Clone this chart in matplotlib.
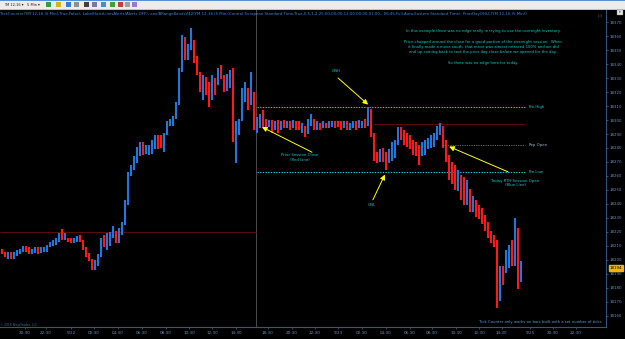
import matplotlib
matplotlib.use("Agg")
import matplotlib.pyplot as plt
import matplotlib.transforms as mtransforms
from matplotlib.patches import Rectangle

# ---------------- data (YM 12-16, aggregated bars) ----------------
first_open = 18207
highs = [18208,18206,18206,18206,18206,18207,18208,18210,18210,18209,
         18208,18209,18209,18209,18209,18211,18213,18214,18216,18219,
         18222,18219,18216,18216,18216,18217,18218,18214,18209,18205,
         18201,18200,18204,18216,18218,18219,18220,18224,18221,18223,
         18227,18243,18263,18268,18274,18281,18284,18284,18282,18282,
         18286,18289,18289,18289,18291,18299,18301,18303,18313,18337,
         18361,18359,18354,18366,18357,18346,18334,18332,18331,18327,
         18332,18330,18337,18339,18332,18333,18336,18337,18299,18301,
         18323,18327,18323,18334,18320,18302,18304,18307,18301,18300,
         18300,18299,18300,18299,18300,18299,18299,18300,18299,18299,
         18298,18296,18301,18304,18301,18299,18298,18299,18298,18299,
         18299,18299,18299,18299,18299,18299,18298,18299,18299,18300,
         18299,18301,18309,18308,18291,18277,18279,18280,18277,18279,
         18284,18286,18295,18295,18293,18291,18289,18286,18284,18282,
         18284,18286,18287,18289,18291,18296,18298,18296,18286,18275,
         18270,18268,18264,18261,18259,18257,18251,18246,18243,18239,
         18237,18232,18227,18221,18218,18214,18196,18196,18207,18211,
         18214,18230,18223,18199]
lows = [18204,18202,18201,18201,18201,18203,18204,18206,18206,18204,
        18204,18205,18204,18205,18206,18206,18209,18210,18211,18213,
        18214,18214,18213,18212,18212,18213,18213,18207,18202,18199,
        18193,18193,18196,18202,18209,18207,18210,18216,18212,18212,
        18218,18225,18239,18260,18264,18269,18274,18275,18276,18275,
        18276,18279,18279,18280,18277,18289,18296,18296,18301,18311,
        18334,18343,18343,18350,18341,18332,18320,18314,18318,18309,
        18314,18318,18325,18329,18320,18321,18323,18284,18269,18289,
        18299,18313,18307,18311,18293,18291,18294,18295,18294,18295,
        18291,18293,18291,18293,18294,18294,18293,18294,18293,18293,
        18291,18288,18290,18296,18293,18293,18293,18294,18294,18294,
        18295,18294,18295,18293,18294,18293,18293,18294,18293,18294,
        18294,18294,18296,18288,18271,18269,18270,18270,18264,18269,
        18271,18273,18282,18286,18282,18281,18279,18275,18274,18268,
        18274,18275,18279,18280,18281,18286,18289,18280,18270,18257,
        18254,18250,18249,18243,18239,18239,18234,18234,18231,18229,
        18226,18221,18216,18212,18209,18166,18171,18182,18191,18194,
        18196,18196,18179,18184]
closes = [18206,18203,18204,18203,18204,18205,18207,18209,18208,18205,
          18206,18207,18206,18207,18208,18210,18211,18213,18214,18217,
          18216,18216,18215,18214,18214,18215,18214,18209,18204,18200,
          18196,18199,18202,18214,18213,18216,18218,18221,18214,18221,
          18226,18241,18261,18266,18271,18279,18281,18277,18279,18280,
          18284,18287,18286,18281,18290,18296,18300,18301,18311,18336,
          18357,18346,18351,18354,18344,18334,18325,18329,18321,18314,
          18329,18325,18334,18332,18325,18329,18330,18289,18293,18299,
          18320,18321,18314,18318,18296,18297,18300,18299,18297,18298,
          18294,18296,18293,18297,18296,18298,18295,18299,18296,18294,
          18296,18291,18300,18301,18295,18296,18294,18297,18296,18296,
          18298,18297,18296,18295,18299,18294,18296,18297,18294,18298,
          18299,18298,18306,18290,18274,18271,18275,18273,18271,18276,
          18280,18284,18293,18290,18287,18286,18282,18279,18276,18275,
          18280,18282,18284,18286,18289,18294,18295,18282,18273,18263,
          18261,18256,18259,18249,18246,18250,18239,18240,18234,18232,
          18229,18225,18218,18214,18211,18175,18193,18191,18201,18206,
          18199,18222,18186,18194]

price_ticks = list(range(18160, 18371, 10))
time_tick_bars = [7.8, 14.8, 23.2, 30.8, 38.8, 46.8, 54.8, 62.5, 70.2, 78.2,
                  88.8, 96.8, 104.5, 112.2, 120.2, 128.2, 136.2, 143.5, 151.5,
                  159.2, 166.8, 176.2, 183.8, 191.5]
time_tick_labels = ["20:30", "22:30", "9/22", "02:30", "04:30", "06:30", "08:30",
                    "10:30", "12:30", "14:30", "18:30", "20:30", "22:30", "9/23",
                    "02:30", "04:30", "06:30", "08:30", "10:30", "12:30", "14:30",
                    "9/25", "20:30", "22:30"]

session_break = 84.8
pre_high = 18309
pre_low = 18263
prior_close = 18297
rep_open = 18282
older_close = 18220
line_end = 174.5

# ---------------- figure ----------------
W, H = 625, 339
fig = plt.figure(figsize=(W / 100, H / 100), dpi=100, facecolor="black")
ax = fig.add_axes([0, 12 / H, 606 / W, 317 / H])
ax.set_facecolor("black")
ax.set_xlim(-0.5, 201.5)
ax.set_ylim(18152.1, 18378.6)

axis_col = "#34557c"
lab_col = "#6f90b8"
cyan = "#19c9c9"
blue_bar = "#2277dd"
red_bar = "#ff1a1a"

for s in ["left", "top"]:
    ax.spines[s].set_visible(False)
for s in ["right", "bottom"]:
    ax.spines[s].set_color(axis_col)
    ax.spines[s].set_linewidth(0.8)

ax.yaxis.tick_right()
ax.set_yticks(price_ticks)
ax.set_yticklabels([str(p) for p in price_ticks])
ax.tick_params(axis="y", colors=axis_col, labelcolor=lab_col, labelsize=2.8,
               length=1.5, width=0.6, pad=1)
ax.set_xticks(time_tick_bars)
ax.set_xticklabels(time_tick_labels)
ax.tick_params(axis="x", colors=axis_col, labelcolor=lab_col, labelsize=3.0,
               length=1.5, width=0.6, pad=1.2)

# session divider
ax.axvline(session_break, color="#4a4a4a", lw=0.7, zorder=1)

# horizontal levels
ax.hlines(older_close, -0.5, session_break, color="#5a0c0c", lw=0.8, zorder=1)
ax.hlines(prior_close, 123.8, line_end, color="#5a0c0c", lw=0.8, zorder=1)
ax.hlines(pre_high, 85.2, line_end, color=cyan, lw=0.8, linestyles=(0, (1.2, 1.2)), zorder=3)
ax.hlines(pre_low, 85.2, line_end, color=cyan, lw=0.8, linestyles=(0, (1.2, 1.2)), zorder=3)
ax.hlines(rep_open, 147.2, line_end, color="#6a6a6a", lw=0.7, linestyles=(0, (1.2, 1.2)), zorder=3)

# bars
xs = list(range(len(closes)))
opens = [first_open] + closes[:-1]
cols = [blue_bar if c >= o else red_bar for o, c in zip(opens, closes)]
ax.vlines(xs, lows, highs, colors=cols, lw=1.5, zorder=4)

# level labels
for lvl, name in [(pre_high, "Pre.High"), (rep_open, "Rep.Open"), (pre_low, "Pre.Low")]:
    ax.text(175.8, lvl, name, color=cyan if name != "Rep.Open" else "#9fb0c0",
            fontsize=2.8, va="center", ha="left")

# arrows and notes
arrow_kw = dict(arrowstyle="-|>,head_length=0.6,head_width=0.3", color="#ffff00", lw=0.7,
                shrinkA=0, shrinkB=0, mutation_scale=5)
ax.annotate("", xy=(122.2, 18311), xytext=(112.2, 18330), arrowprops=arrow_kw, zorder=6)
ax.annotate("", xy=(86.8, 18295), xytext=(103.5, 18277), arrowprops=arrow_kw, zorder=6)
ax.annotate("", xy=(127.8, 18261), xytext=(123.8, 18243), arrowprops=arrow_kw, zorder=6)
ax.annotate("", xy=(149.2, 18281), xytext=(168.8, 18263), arrowprops=arrow_kw, zorder=6)

ax.text(111.5, 18335, "ONH", color=cyan, fontsize=2.8, ha="center", va="center")
ax.text(123.5, 18239, "ONL", color=cyan, fontsize=2.8, ha="center", va="center")
ax.text(99.5, 18273, "Prior Session Close\n(Red Line)", color=cyan, fontsize=2.8,
        ha="center", va="center", linespacing=1.3)
ax.text(171.2, 18255, "Today RTH Session Open\n(Blue Line)", color=cyan, fontsize=2.8,
        ha="center", va="center", linespacing=1.3)

# current price marker
trans = mtransforms.blended_transform_factory(ax.transAxes, ax.transData)
ax.text(1.006, closes[-1], str(closes[-1]), transform=trans, fontsize=2.8, color="black",
        ha="left", va="center", zorder=10, clip_on=False,
        bbox=dict(boxstyle="square,pad=0.25", facecolor="#f2b400", edgecolor="#f2b400"))

def fx(x):
    return x / W

def fy(y):
    return 1 - y / H

# explanation block
note = ("In this example there was no edge really in trying to use the overnight inventory.\n\n"
        "Price chopped around the close for a good portion of the overnight session.  When\n"
        "it finally made a move south, that move was almost retraced 100% and we did\n"
        "end up coming back to test the prior day close before we opened for the day.\n\n"
        "So there was no edge here for today.")
fig.text(fx(483), fy(29), note, color=cyan, fontsize=2.7, ha="center", va="top",
         linespacing=1.45, multialignment="center")

# header
header = ("TickCounter(YM 12-16 (5 Min),True,False), LabelHorizLinesAlerts(Alerts OFF), "
          "anaIBRangeBandsV42(YM 12-16 (5 Min),Central European Standard Time,True,0.5,1,2,25:00,"
          "00:00,12:00,00:00,01:00,- 06:45,Full,Auto,Eastern Standard Time), PriorDayOHLC(YM 12-16 (5 Min))")
fig.text(fx(0), fy(13.5), header, color="#3f86d6", fontsize=2.8, ha="left", va="center")

fig.text(fx(602), fy(322.5), "Tick Counter only works on bars built with a set number of ticks",
         color="#4aa6d8", fontsize=2.7, ha="right", va="center")
fig.text(fx(0.5), fy(325), "\u00a9 2016 NinjaTrader, LLC", color="#4a6d96", fontsize=2.2,
         ha="left", va="center")

# toolbar
fig.patches.append(Rectangle((0, fy(9)), 1, 9 / H, transform=fig.transFigure,
                             facecolor="#ececec", edgecolor="none", zorder=0))
fig.patches.append(Rectangle((0, fy(1)), 1, 1 / H, transform=fig.transFigure,
                             facecolor="#5b8fd6", edgecolor="none", zorder=1))
fig.patches.append(Rectangle((0, fy(9.5)), 1, 0.8 / H, transform=fig.transFigure,
                             facecolor="#b8c4d0", edgecolor="none", zorder=1))
fig.text(fx(4), fy(4.8), "YM 12-16 \u25be   5 Min \u25be", color="#202020", fontsize=2.6,
         ha="left", va="center")
icon_x = [46, 56, 66, 74, 84, 92, 101, 110, 118, 125, 132]
icon_c = ["#3c9a3c", "#d8b030", "#3a7ad0", "#909090", "#404040", "#7a7a9a",
          "#4a8ad0", "#3fa03f", "#c04040", "#a0a0a0", "#9a7ad0"]
for xi, ci in zip(icon_x, icon_c):
    fig.patches.append(Rectangle((fx(xi), fy(7)), 5 / W, 5 / H, transform=fig.transFigure,
                                 facecolor=ci, edgecolor="none", zorder=2))

# top-right small controls
fig.patches.append(Rectangle((fx(617), fy(15)), 6 / W, 5 / H, transform=fig.transFigure,
                             facecolor="#e8e8e8", edgecolor="#808080", lw=0.3, zorder=2))
fig.text(fx(620), fy(12.5), "\u25be", color="black", fontsize=2.5, ha="center", va="center")
fig.text(fx(600), fy(15.5), "\u25b7|", color="#5a7090", fontsize=3.2, ha="center", va="center")

fig.savefig("out.png", dpi=100, facecolor="black")
